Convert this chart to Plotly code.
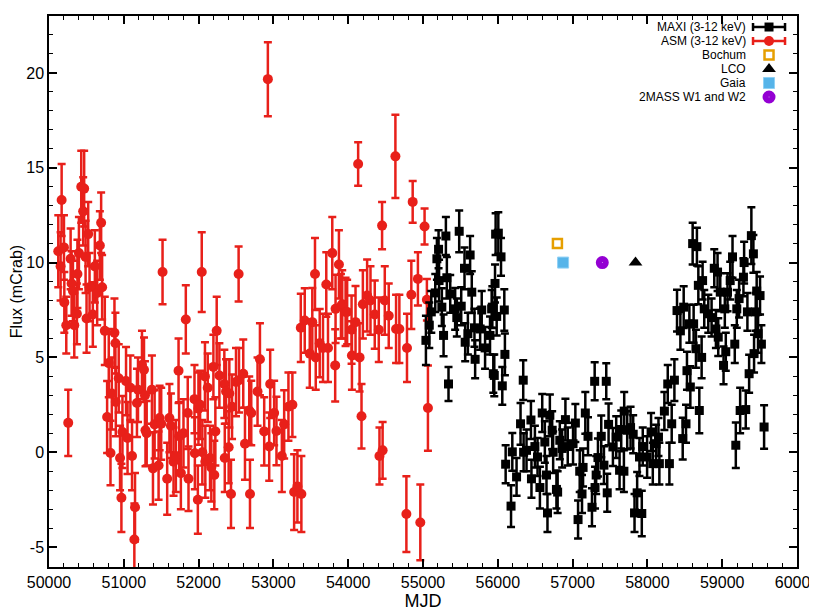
import plotly.graph_objects as go

# RXTE/ASM light curve (3-12 keV)
asm_mjd = [50124, 50155, 50169, 50200, 50205, 50231, 50257, 50289, 50302, 50320,
           50338, 50373, 50380, 50400, 50431, 50457, 50470, 50489, 50502, 50524,
           50542, 50586, 50613, 50644, 50680, 50697, 50710, 50746, 50777, 50799,
           50822, 50840, 50875, 50888, 50893, 50932, 50950, 50968, 50982, 51030,
           51050, 51088, 51110, 51141, 51150, 51176, 51190, 51243, 51270, 51283,
           51290, 51306, 51376, 51390, 51412, 51465, 51479, 51500, 51518, 51580,
           51610, 51630, 51665, 51696, 51732, 51740, 51763, 51798, 51829, 51855,
           51865, 51945, 51950, 51990, 51998, 52020, 52042, 52050, 52085, 52090,
           52122, 52153, 52170, 52198, 52210, 52224, 52242, 52278, 52344, 52350,
           52367, 52402, 52411, 52433, 52447, 52500, 52535, 52540, 52597, 52620,
           52677, 52687, 52704, 52788, 52820, 52877, 52926, 52944, 52957, 53010,
           53041, 53113, 53144, 53201, 53254, 53277, 53321, 53366, 53374, 53419,
           53486, 53520, 53556, 53566, 53619, 53663, 53707, 53730, 53787, 53826,
           53831, 53876, 53903, 53920, 53965, 53986, 54045, 54050, 54098, 54133,
           54152, 54178, 54196, 54253, 54298, 54355, 54409, 54418, 54453, 54460,
           54489, 54542, 54631, 54640, 54684, 54778, 54786, 54844, 54862, 54932,
           54964, 55021, 55052, 55066]
asm_flux = [10.6, 9.8, 13.3, 10.8, 7.9, 6.7, 1.55, 10.2, 8.9, 8.5,
            6.7, 7.3, 9.4, 10.5, 14.0, 12.7, 13.9, 10.3, 7.05, 11.5,
            8.7, 7.26, 9.8, 8.4, 10.9, 12.1, 8.7, 6.4, 1.86, 4.7,
            -0.04, 3.1, 6.3, 5.75, 2.65, 3.9, -0.3, -2.4, 1.07, 3.75,
            0.75, 3.4, -0.2, -4.6, -2.9, 2.6, 3.3, 4.6, 4.35, 3.0,
            1.16, 1.0, 3.3, -0.85, 1.47, -0.7, 1.8, 1.5, 9.5, -1.4,
            1.8, 1.4, -0.5, -0.2, 4.3, 0.84, -1.1, 1.0, 7.0, 2.07,
            -1.4, 2.8, -0.05, -2.5, 2.3, 2.5, 9.5, 0.0, 4.0, -0.5,
            3.4, -0.3, -0.8, 4.5, -1.2, 1.1, 6.4, 4.05, 3.6, -0.3,
            3.2, 0.26, 3.1, -2.2, 2.4, 3.7, 9.4, 3.8, 4.14, 0.45,
            2.2, -2.2, 2.07, 3.2, 4.9, 1.1, 19.67, 0.3, 3.6, 2.07,
            1.12, -0.2, 1.47, 2.4, 2.5, -2.1, -1.8, 6.56, -2.2, 6.95,
            5.2, 6.86, 9.4, 5.0, 5.75, 5.5, 8.84, 5.5, 10.5, 4.58,
            7.56, 9.9, 7.7, 7.8, 7.4, 7.4, 6.46, 5.1, 6.86, 15.2,
            5.0, 1.9, 7.8, 8.26, 8.0, 7.26, 6.46, -0.2, 11.95, 0.1,
            8.0, 7.2, 15.6, 6.5, 6.5, -3.26, 5.5, 8.3, 13.2, 9.14,
            -3.7, 11.9, 8.04, 2.33]
asm_err = [1.9, 1.8, 1.9, 1.7, 1.6, 1.5, 1.75, 1.6, 1.7, 1.6,
           1.7, 1.6, 1.8, 1.9, 1.9, 1.8, 2.0, 1.9, 1.8, 1.7,
           1.8, 1.7, 1.9, 1.7, 1.8, 1.6, 1.7, 1.8, 1.9, 1.8,
           1.7, 1.9, 1.8, 1.6, 1.8, 1.8, 1.7, 1.8, 1.9, 1.8,
           1.9, 1.7, 1.8, 1.9, 1.8, 1.8, 1.7, 1.8, 1.7, 1.8,
           1.9, 1.7, 1.8, 1.9, 1.8, 1.8, 1.7, 1.9, 1.7, 1.9,
           1.8, 1.7, 1.8, 1.9, 1.7, 1.8, 1.9, 1.8, 1.8, 1.9,
           1.7, 1.8, 1.9, 1.8, 1.9, 1.8, 2.1, 1.7, 1.8, 1.9,
           1.8, 1.7, 1.8, 1.7, 1.8, 1.8, 1.8, 1.7, 1.8, 1.8,
           1.7, 1.9, 1.8, 1.8, 1.7, 1.8, 1.45, 1.7, 1.8, 1.9,
           1.8, 1.8, 1.7, 1.8, 1.9, 1.8, 1.95, 1.8, 1.8, 1.7,
           1.8, 1.9, 1.8, 1.8, 1.7, 2.0, 1.9, 1.8, 2.0, 1.7,
           1.8, 1.8, 1.9, 1.7, 1.8, 1.8, 1.7, 1.8, 1.9, 1.9,
           1.8, 1.8, 1.7, 1.8, 1.8, 1.7, 1.8, 1.8, 1.9, 1.15,
           1.8, 1.7, 1.8, 1.9, 1.8, 1.8, 1.7, 1.5, 1.25, 1.5,
           1.8, 1.7, 2.2, 1.8, 1.8, 2.0, 1.8, 1.8, 1.1, 1.4,
           2.0, 0.95, 1.1, 2.25]

# MAXI light curve (3-12 keV)
maxi_mjd = [55039, 55084, 55111, 55164, 55186, 55208, 55215, 55252, 55275, 55306,
            55319, 55341, 55364, 55430, 55452, 55484, 55511, 55555, 55564, 55600,
            55630, 55652, 55688, 55697, 55764, 55785, 55830, 55896, 55918, 55927,
            55940, 55953, 55963, 55971, 55985, 56007, 56043, 56060, 56087, 56095,
            56105, 56177, 56194, 56251, 56304, 56340, 56345, 56384, 56443, 56450,
            56496, 56531, 56563, 56594, 56629, 56651, 56664, 56696, 56727, 56740,
            56784, 56800, 56829, 56860, 56904, 56935, 57006, 57037, 57073, 57095,
            57126, 57140, 57170, 57206, 57259, 57295, 57300, 57315, 57339, 57383,
            57419, 57450, 57463, 57481, 57539, 57583, 57628, 57650, 57686, 57690,
            57730, 57775, 57810, 57828, 57863, 57894, 57925, 57938, 57996, 58049,
            58072, 58116, 58148, 58160, 58227, 58272, 58294, 58325, 58361, 58396,
            58441, 58472, 58485, 58516, 58529, 58561, 58574, 58605, 58618, 58649,
            58662, 58681, 58694, 58725, 58738, 58760, 58814, 58858, 58894, 58916,
            58938, 58947, 58974, 59018, 59035, 59048, 59071, 59107, 59138, 59168,
            59182, 59195, 59226, 59240, 59284, 59293, 59315, 59337, 59360, 59390,
            59417, 59426, 59448, 59461, 59480, 59506, 59524, 59560]
maxi_flux = [5.9, 6.7, 7.4, 8.4, 10.2, 10.7, 9.05, 7.65, 6.16, 11.4,
             9.2, 3.6, 8.35, 7.56, 7.1, 11.65, 7.7, 9.7, 5.8, 6.25,
             10.4, 8.44, 6.56, 4.9, 6.5, 7.5, 5.5, 6.16, 7.56, 7.65,
             4.14, 4.05, 8.9, 11.5, 7.16, 11.55, 10.3, 3.5, 7.5, 5.16,
             -0.63, -2.84, 0.02, -1.3, 1.5, 3.8, 0.0, 0.1, 1.7, -1.4,
             0.3, -0.25, -1.86, 2.07, 0.54, -1.2, -3.2, 1.95, 1.16, 0.0,
             -1.96, -2.1, 0.63, 0.2, 1.72, 0.3, 0.45, 1.54, -3.55, -1.0,
             -2.2, -0.8, 2.07, 0.84, -2.9, 3.74, -1.86, -1.2, -0.28, 0.84,
             -0.68, 3.74, -2.14, 1.47, 0.28, 0.8, -0.95, 1.2, -1.0, 2.17,
             1.16, 1.3, 0.95, -3.2, -2.14, -0.25, -3.23, 0.3, -0.25, 1.07,
             -0.6, 0.45, 0.8, -0.6, 2.17, 3.6, -0.6, 1.5, 3.8, 7.47,
             6.4, 0.72, 7.65, 1.5, 4.3, 6.77, 3.44, 11.0, 6.77, 5.46,
             10.84, 8.8, 2.2, 5.0, 9.05, 7.56, 7.3, 7.1, 9.7, 6.5,
             9.5, 6.07, 8.44, 4.58, 7.56, 5.3, 8.44, 9.05, 10.3, 5.7,
             0.37, 7.56, 8.1, 2.2, 9.23, 10.0, 2.25, 7.4, 4.14, 11.42,
             10.46, 5.2, 7.4, 8.5, 6.25, 8.26, 5.7, 1.33]
maxi_err = [1.3, 1.2, 1.1, 1.0, 1.1, 1.0, 1.1, 1.0, 1.1, 1.0,
            1.1, 0.9, 1.0, 1.1, 1.0, 1.1, 1.0, 1.1, 1.0, 1.1,
            1.0, 1.1, 1.0, 1.0, 1.1, 1.0, 1.1, 1.0, 1.0, 1.1,
            1.0, 1.1, 1.0, 1.1, 1.0, 1.1, 1.0, 1.0, 1.1, 1.1,
            1.0, 1.1, 1.0, 1.0, 1.1, 1.05, 1.0, 1.1, 1.0, 1.0,
            1.1, 1.0, 1.1, 1.0, 1.1, 1.0, 1.0, 1.1, 1.0, 1.1,
            1.0, 1.1, 1.0, 1.0, 1.1, 1.0, 1.1, 1.0, 1.0, 1.1,
            1.0, 1.0, 1.1, 1.0, 1.0, 1.0, 1.1, 1.0, 1.0, 1.1,
            1.0, 0.95, 1.0, 1.1, 1.0, 1.1, 1.0, 1.0, 1.1, 1.0,
            1.0, 1.1, 1.0, 1.0, 1.1, 1.0, 1.2, 1.0, 1.1, 1.0,
            1.1, 1.0, 1.0, 1.1, 1.0, 1.0, 1.1, 1.0, 1.1, 1.1,
            1.0, 1.1, 1.1, 1.0, 1.0, 1.0, 1.1, 1.1, 1.0, 1.0,
            1.0, 1.0, 1.2, 1.1, 1.0, 1.0, 1.0, 1.0, 1.0, 1.0,
            1.0, 1.0, 1.0, 1.0, 1.0, 1.0, 1.0, 1.0, 1.1, 1.0,
            1.2, 1.0, 1.0, 1.2, 1.0, 1.1, 1.0, 1.0, 1.0, 1.5,
            1.0, 1.0, 1.0, 1.0, 1.0, 1.0, 1.0, 1.15]

# optical / IR epochs
bochum_mjd, bochum_flux = [56797], [11.0]
gaia_mjd, gaia_flux = [56873], [10.0]
mass_mjd, mass_flux = [57397], [10.0]
lco_mjd, lco_flux = [57841], [10.0]

x_ticks = [50000, 51000, 52000, 53000, 54000, 55000, 56000, 57000, 58000, 59000, 60000]
y_ticks = [-5, 0, 5, 10, 15, 20]

RED = '#e8201a'
FONT = 'Liberation Sans, Arial, sans-serif'

fig = go.Figure()

fig.add_trace(go.Scatter(
    x=asm_mjd, y=asm_flux, mode='markers', name='ASM (3-12 keV)',
    marker=dict(symbol='circle', size=10, color=RED),
    error_y=dict(type='data', array=asm_err, color=RED, thickness=2.5, width=4),
    showlegend=False
))

fig.add_trace(go.Scatter(
    x=maxi_mjd, y=maxi_flux, mode='markers', name='MAXI (3-12 keV)',
    marker=dict(symbol='square', size=9, color='black'),
    error_y=dict(type='data', array=maxi_err, color='black', thickness=2.5, width=4),
    showlegend=False
))

point_styles = [
    ('Bochum', bochum_mjd, bochum_flux, dict(symbol='square-open', size=9, color='#e69f00', line=dict(width=2.5, color='#e69f00'))),
    ('LCO', lco_mjd, lco_flux, dict(symbol='triangle-up', size=12, color='black')),
    ('Gaia', gaia_mjd, gaia_flux, dict(symbol='square', size=11, color='#56b4e9', line=dict(width=1, color='#8fd0f5'))),
    ('2MASS W1 and W2', mass_mjd, mass_flux, dict(symbol='circle-dot', size=13, color='#9400d3')),
]
for name, xs, ys, mk in point_styles:
    fig.add_trace(go.Scatter(x=xs, y=ys, mode='markers', name=name, marker=mk, showlegend=False))

# legend drawn by hand (text on the left, key on the right)
legend_rows = [
    ('MAXI (3-12 keV)', dict(symbol='square', size=9, color='black'), 'black'),
    ('ASM (3-12 keV)', dict(symbol='circle', size=10, color=RED), RED),
    ('Bochum', point_styles[0][3], None),
    ('LCO', point_styles[1][3], None),
    ('Gaia', point_styles[2][3], None),
    ('2MASS W1 and W2', point_styles[3][3], None),
]
key_x = 0.9626
text_x = 0.9345
row_top = 0.980
row_step = 0.0254
for i, (label, mk, ebar) in enumerate(legend_rows):
    ry = row_top - i * row_step
    tr = go.Scatter(x=[key_x], y=[ry], mode='markers', marker=mk, xaxis='x2', yaxis='y2',
                    showlegend=False, hoverinfo='skip')
    if ebar:
        tr.error_x = dict(type='constant', value=0.0214, color=ebar, thickness=2.5, width=4)
    fig.add_trace(tr)
    fig.add_annotation(x=text_x, y=ry, xref='x2', yref='y2', text=label, showarrow=False,
                       xanchor='right', yanchor='middle', font=dict(size=12, color='black'))

axis_common = dict(
    showline=True, linecolor='black', linewidth=1.5, mirror='allticks',
    ticks='inside', ticklen=8, tickwidth=1.5, tickcolor='black',
    showgrid=False, zeroline=False, automargin=False,
    ticklabeloverflow='allow',
    tickfont=dict(size=16, color='black'),
)

# the page body has an 8px margin, so the figure is sized to fit the window
fig.update_layout(
    width=809, height=605,
    margin=dict(l=41, r=20, t=8, b=46),
    plot_bgcolor='white', paper_bgcolor='white',
    font=dict(family=FONT, color='black'),
    showlegend=False,
    xaxis=dict(
        range=[50000, 60000], tickmode='array', tickvals=x_ticks,
        ticktext=[str(v) for v in x_ticks],
        minor=dict(tickmode='linear', tick0=50000, dtick=200, ticks='inside', ticklen=4,
                   tickwidth=1.2, tickcolor='black'),
        title=dict(text='MJD', font=dict(size=18), standoff=4),
        **axis_common
    ),
    yaxis=dict(
        range=[-6.05, 23.0], tickmode='array', tickvals=y_ticks,
        ticktext=[str(v) for v in y_ticks],
        minor=dict(tickmode='linear', tick0=0, dtick=1, ticks='inside', ticklen=4,
                   tickwidth=1.2, tickcolor='black'),
        title=dict(text='Flux (mCrab)', font=dict(size=16), standoff=6),
        **axis_common
    ),
    xaxis2=dict(range=[0, 1], overlaying='x', visible=False, fixedrange=True),
    yaxis2=dict(range=[0, 1], overlaying='y', visible=False, fixedrange=True),
)

fig.write_html("out.html")
